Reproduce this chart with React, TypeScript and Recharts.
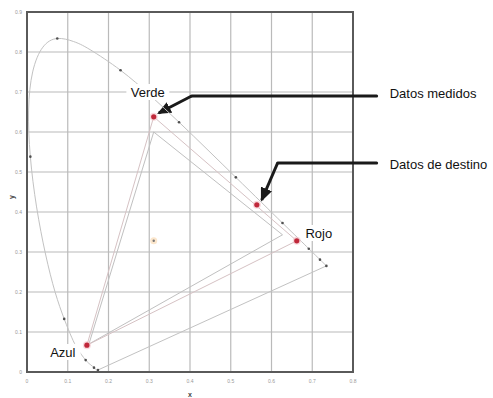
import {
  CartesianGrid,
  ReferenceArea,
  ReferenceDot,
  ReferenceLine,
  Scatter,
  ScatterChart,
  XAxis,
  YAxis,
} from 'recharts';

// CIE 1931 spectral locus (nm, x, y)
const spectralLocus = [
  { nm: 380, x: 0.1741, y: 0.005 },
  { nm: 400, x: 0.1733, y: 0.0048 },
  { nm: 420, x: 0.1714, y: 0.0051 },
  { nm: 430, x: 0.1689, y: 0.0069 },
  { nm: 440, x: 0.1644, y: 0.0109 },
  { nm: 450, x: 0.1566, y: 0.0177 },
  { nm: 460, x: 0.144, y: 0.0297 },
  { nm: 470, x: 0.1241, y: 0.0578 },
  { nm: 475, x: 0.1096, y: 0.0868 },
  { nm: 480, x: 0.0913, y: 0.1327 },
  { nm: 485, x: 0.0687, y: 0.2007 },
  { nm: 490, x: 0.0454, y: 0.295 },
  { nm: 495, x: 0.0235, y: 0.4127 },
  { nm: 500, x: 0.0082, y: 0.5384 },
  { nm: 505, x: 0.0039, y: 0.6548 },
  { nm: 510, x: 0.0139, y: 0.7502 },
  { nm: 515, x: 0.0389, y: 0.812 },
  { nm: 520, x: 0.0743, y: 0.8338 },
  { nm: 525, x: 0.1142, y: 0.8262 },
  { nm: 530, x: 0.1547, y: 0.8059 },
  { nm: 540, x: 0.2296, y: 0.7543 },
  { nm: 550, x: 0.3016, y: 0.6923 },
  { nm: 560, x: 0.3731, y: 0.6245 },
  { nm: 570, x: 0.4441, y: 0.5547 },
  { nm: 580, x: 0.5125, y: 0.4866 },
  { nm: 590, x: 0.5752, y: 0.4242 },
  { nm: 600, x: 0.627, y: 0.3725 },
  { nm: 610, x: 0.6658, y: 0.334 },
  { nm: 620, x: 0.6915, y: 0.3083 },
  { nm: 630, x: 0.7079, y: 0.292 },
  { nm: 640, x: 0.719, y: 0.2809 },
  { nm: 650, x: 0.726, y: 0.274 },
  { nm: 670, x: 0.732, y: 0.268 },
  { nm: 700, x: 0.7347, y: 0.2653 },
];

// wavelengths that carry a small marker on the locus
const markedNm = [380, 440, 460, 480, 500, 520, 540, 560, 580, 600, 620, 640, 700];

// measured primaries (red dots)
const measuredGamut = [
  { name: 'Verde', x: 0.311, y: 0.638 },
  { name: 'Rojo', x: 0.662, y: 0.328 },
  { name: 'Azul', x: 0.147, y: 0.067 },
];

// target primaries
const targetGamut = [
  { x: 0.311, y: 0.6 },
  { x: 0.627, y: 0.343 },
  { x: 0.152, y: 0.07 },
];

const extraMeasured = [{ x: 0.564, y: 0.418 }];
const whitePoint = [{ x: 0.311, y: 0.328 }];

const gamutLabels = [
  { text: 'Verde', x: 0.2966, y: 0.7 },
  { text: 'Rojo', x: 0.716, y: 0.3475 },
  { text: 'Azul', x: 0.088, y: 0.05 },
];

const callouts = [
  {
    text: 'Datos medidos',
    path: [
      { x: 0.858, y: 0.69 },
      { x: 0.404, y: 0.69 },
      { x: 0.3235, y: 0.6475 },
    ],
    labelX: 0.89,
    labelY: 0.6975,
  },
  {
    text: 'Datos de destino',
    path: [
      { x: 0.858, y: 0.5225 },
      { x: 0.615, y: 0.5225 },
      { x: 0.576, y: 0.43 },
    ],
    labelX: 0.89,
    labelY: 0.52,
  },
];

const xTicks = [0, 0.1, 0.2, 0.3, 0.4, 0.5, 0.6, 0.7, 0.8];
const yTicks = [0, 0.1, 0.2, 0.3, 0.4, 0.5, 0.6, 0.7, 0.8, 0.9];

const FONT = 'Arial, "Liberation Sans", sans-serif';

const closed = <T,>(pts: T[]) => [...pts, pts[0]];
const tickFmt = (v: number) => (v === 0 ? '0' : v.toFixed(1));
const Nothing = () => <g />;

const LocusDot = (props: { cx?: number; cy?: number }) => (
  <circle cx={props.cx} cy={props.cy} r={1.3} fill="#505050" />
);

const RedDot = (props: { cx?: number; cy?: number }) => (
  <g>
    <circle cx={props.cx} cy={props.cy} r={4} fill="#f4c2c8" opacity={0.6} />
    <circle cx={props.cx} cy={props.cy} r={2.6} fill="#c0283a" />
  </g>
);

const WhiteDot = (props: { cx?: number; cy?: number }) => (
  <g>
    <circle cx={props.cx} cy={props.cy} r={3.5} fill="#fbe6cc" />
    <circle cx={props.cx} cy={props.cy} r={1.2} fill="#777" />
  </g>
);

const boxedText = (text: string) => (props: { cx?: number; cy?: number }) => {
  const w = text.length * 7.4 + 6;
  return (
    <g>
      <rect x={(props.cx ?? 0) - w / 2} y={(props.cy ?? 0) - 8} width={w} height={16} fill="#fff" />
      <text
        x={props.cx}
        y={props.cy}
        textAnchor="middle"
        dominantBaseline="central"
        fontSize={13}
        fontFamily={FONT}
        fill="#111"
      >
        {text}
      </text>
    </g>
  );
};

const sideText = (text: string) => (props: { cx?: number; cy?: number }) => (
  <text
    x={props.cx}
    y={props.cy}
    textAnchor="start"
    dominantBaseline="central"
    fontSize={13}
    fontFamily={FONT}
    fill="#111"
  >
    {text}
  </text>
);

const YTitle = (props: { viewBox?: { x: number; y: number; width: number; height: number } }) => {
  const vb = props.viewBox ?? { x: 0, y: 0, width: 0, height: 0 };
  const cx = vb.x + 11;
  const cy = vb.y + vb.height / 2 + 5;
  return (
    <text
      x={cx}
      y={cy}
      transform={`rotate(-90 ${cx} ${cy})`}
      textAnchor="middle"
      dominantBaseline="central"
      fontSize={7}
      fontWeight="bold"
      fill="#444"
      fontFamily={FONT}
    >
      y
    </text>
  );
};

export default function App() {
  const locusMarks = spectralLocus.filter((p) => markedNm.includes(p.nm));
  const purpleLine = [spectralLocus[spectralLocus.length - 1], spectralLocus[0]];

  return (
    <div
      style={{
        position: 'absolute',
        left: 0,
        top: 0,
        width: 493,
        height: 398,
        background: '#fff',
        fontFamily: FONT,
      }}
    >
      <svg width={0} height={0} style={{ position: 'absolute' }}>
        <defs>
          <marker
            id="callout-head"
            viewBox="0 0 14 12"
            refX={12}
            refY={6}
            markerWidth={14}
            markerHeight={12}
            markerUnits="userSpaceOnUse"
            orient="auto"
          >
            <path d="M0,0 L14,6 L0,12 z" fill="#1a1a1a" />
          </marker>
        </defs>
      </svg>
      <ScatterChart width={493} height={398} margin={{ top: 12, right: 140, bottom: 0, left: 0 }}>
        <CartesianGrid stroke="#bababa" strokeWidth={1.2} />
        <XAxis
          type="number"
          dataKey="x"
          domain={[0, 0.8]}
          ticks={xTicks}
          tickFormatter={tickFmt}
          height={26}
          tickLine={false}
          tickSize={0}
          tickMargin={7}
          axisLine={false}
          tick={{ fontSize: 5, fill: '#999' }}
          label={{ value: 'x', position: 'insideBottom', offset: 1, fontSize: 7, fontWeight: 'bold', fill: '#444' }}
        />
        <YAxis
          type="number"
          dataKey="y"
          domain={[0, 0.9]}
          ticks={yTicks}
          tickFormatter={tickFmt}
          width={27}
          tickLine={false}
          tickSize={0}
          tickMargin={5}
          axisLine={false}
          tick={{ fontSize: 5, fill: '#999' }}
          label={<YTitle />}
        />
        <ReferenceArea x1={0} x2={0.8} y1={0} y2={0.9} fill="none" stroke="#5a5a5a" strokeWidth={2} />
        <Scatter
          data={spectralLocus}
          line={{ stroke: '#c2c2c2', strokeWidth: 1 }}
          lineJointType="natural"
          shape={Nothing}
          isAnimationActive={false}
        />
        <Scatter
          data={purpleLine}
          line={{ stroke: '#c2c2c2', strokeWidth: 1 }}
          shape={Nothing}
          isAnimationActive={false}
        />
        <Scatter
          data={closed(targetGamut)}
          line={{ stroke: '#c0c0c0', strokeWidth: 1 }}
          shape={Nothing}
          isAnimationActive={false}
        />
        <Scatter
          data={closed(measuredGamut)}
          line={{ stroke: '#d6c2c4', strokeWidth: 1 }}
          shape={Nothing}
          isAnimationActive={false}
        />
        <Scatter data={locusMarks} shape={LocusDot} isAnimationActive={false} />
        <Scatter data={whitePoint} shape={WhiteDot} isAnimationActive={false} />
        <Scatter data={[...measuredGamut, ...extraMeasured]} shape={RedDot} isAnimationActive={false} />
        {callouts.map((c) => [
          <ReferenceLine
            key={c.text + '-a'}
            segment={[c.path[0], c.path[1]]}
            stroke="#1a1a1a"
            strokeWidth={3}
            strokeLinecap="round"
            ifOverflow="visible"
          />,
          <ReferenceLine
            key={c.text + '-b'}
            segment={[c.path[1], c.path[2]]}
            stroke="#1a1a1a"
            strokeWidth={3}
            markerEnd="url(#callout-head)"
            ifOverflow="visible"
          />,
          <ReferenceDot
            key={c.text + '-t'}
            x={c.labelX}
            y={c.labelY}
            ifOverflow="visible"
            shape={sideText(c.text)}
          />,
        ])}
        {gamutLabels.map((g) => (
          <ReferenceDot key={g.text} x={g.x} y={g.y} ifOverflow="visible" shape={boxedText(g.text)} />
        ))}
      </ScatterChart>
    </div>
  );
}
